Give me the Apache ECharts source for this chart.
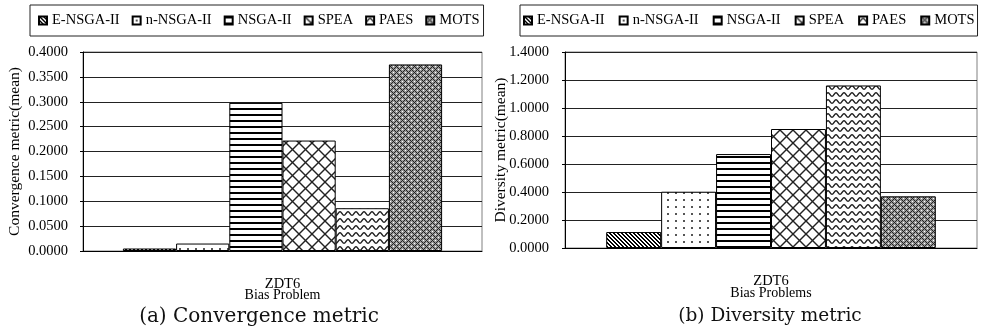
<!DOCTYPE html>
<html>
<head>
<meta charset="utf-8">
<script src="https://cdn.jsdelivr.net/npm/echarts@6/dist/echarts.min.js"></script>
<style>html,body{margin:0;padding:0;background:#fff}#c{width:981px;height:332px}</style>
</head>
<body>
<div id="c"></div>
<script>
// ---- data ----
const algorithms = ['E-NSGA-II', 'n-NSGA-II', 'NSGA-II', 'SPEA', 'PAES', 'MOTS'];
const categoriesA = ['ZDT6'];
const categoriesB = ['ZDT6'];
const convergence = [0.005, 0.015, 0.298, 0.222, 0.086, 0.375];
const diversity = [0.114, 0.402, 0.671, 0.850, 1.161, 0.369];
const xNameA = 'Bias Problem';
const xNameB = 'Bias Problems';
const yNameA = 'Convergence metric(mean)';
const yNameB = 'Diversity metric(mean)';
const captionA = '(a) Convergence metric';
const captionB = '(b) Diversity metric';

// ---- patterns ----
function pixelPattern(w, h, fn) {
  const c = document.createElement('canvas');
  c.width = w; c.height = h;
  const ctx = c.getContext('2d');
  for (let y = 0; y < h; y++) for (let x = 0; x < w; x++) {
    ctx.fillStyle = fn(x, y);
    ctx.fillRect(x, y, 1, 1);
  }
  return c;
}
function drawPattern(w, h, fn) {
  const c = document.createElement('canvas');
  c.width = w; c.height = h;
  const ctx = c.getContext('2d');
  ctx.fillStyle = '#fff';
  ctx.fillRect(0, 0, w, h);
  fn(ctx, w, h);
  return c;
}
const patterns = [
  pixelPattern(4, 4, (x, y) => (((x - y) % 4 + 4) % 4 < 2 ? '#000' : '#fff')),
  pixelPattern(8, 7, (x, y) => ((x === 3 || x === 4) && (y === 3 || y === 4) ? '#555' : '#fff')),
  pixelPattern(6, 6, (x, y) => (y < 2 ? '#000' : '#fff')),
  drawPattern(13, 13, (ctx, w, h) => {
    ctx.strokeStyle = '#222'; ctx.lineWidth = 1.4;
    for (let k = -1; k <= 1; k++) {
      ctx.beginPath(); ctx.moveTo(k * w, 0); ctx.lineTo(k * w + w, h); ctx.stroke();
      ctx.beginPath(); ctx.moveTo(k * w + w, 0); ctx.lineTo(k * w, h); ctx.stroke();
    }
  }),
  drawPattern(8, 7, (ctx, w, h) => {
    ctx.strokeStyle = '#222'; ctx.lineWidth = 1.4;
    for (let k = -1; k <= 1; k++) {
      ctx.beginPath();
      for (let x = 0; x <= w; x += 0.5) {
        const y = 3.5 + k * h + 1.8 * Math.cos(2 * Math.PI * x / w);
        if (x === 0) ctx.moveTo(x, y); else ctx.lineTo(x, y);
      }
      ctx.stroke();
    }
  }),
  pixelPattern(6, 6, (x, y) => {
    const d1 = (x + y) % 6, d2 = ((x - y) % 6 + 6) % 6;
    if (d1 === 0 || d2 === 0) return '#222';
    if (d1 === 3 && d2 === 3) return '#fff';
    return '#9a9a9a';
  })
];

const serif = "'Liberation Serif', 'Times New Roman', serif";
const txt = { fontFamily: serif, fontSize: 14.5, color: '#000' };

function yAxis(gridIndex, max, interval, name, gap, margin) {
  return {
    type: 'value', gridIndex, min: 0, max, interval,
    name, nameLocation: 'middle', nameGap: gap, nameMoveOverlap: false,
    nameTextStyle: Object.assign({}, txt, { fontSize: 15.5 }),
    axisLine: { show: true, lineStyle: { color: '#000', width: 1 } },
    axisTick: { show: true, length: 3, lineStyle: { color: '#000' } },
    axisLabel: Object.assign({}, txt, { margin, formatter: v => v.toFixed(4) }),
    splitLine: { show: true, lineStyle: { color: '#222', width: 1 } }
  };
}
function xAxis(gridIndex, data, name, margin, gap) {
  return {
    type: 'category', gridIndex, data,
    name, nameLocation: 'middle', nameGap: gap, nameMoveOverlap: false,
    nameTextStyle: Object.assign({}, txt, { fontSize: 14 }),
    axisLine: { show: true, lineStyle: { color: '#000', width: 1 } },
    axisTick: { show: false },
    axisLabel: Object.assign({}, txt, { fontSize: 14.5, margin }),
    splitLine: { show: false }
  };
}
function legend(left, pad, gap) {
  return {
    left, top: 5, orient: 'horizontal', width: 470,
    data: algorithms,
    itemWidth: 8, itemHeight: 8, itemGap: gap,
    padding: pad,
    borderColor: '#222', borderWidth: 1, backgroundColor: '#fff',
    textStyle: Object.assign({}, txt),
    icon: 'rect',
    selectedMode: false
  };
}
const series = [];
[convergence, diversity].forEach((vals, gi) => {
  algorithms.forEach((name, i) => {
    series.push({
      type: 'bar', name,
      xAxisIndex: gi, yAxisIndex: gi,
      data: [vals[i]],
      barGap: '0%', barCategoryGap: '20%',
      itemStyle: { color: { image: patterns[i], repeat: 'repeat' }, borderColor: '#000', borderWidth: 1 },
      emphasis: { disabled: true },
      animation: false
    });
  });
});

const capStyle = { fontFamily: "'DejaVu Serif', serif", fontWeight: 'normal', color: '#111' };
const chart = echarts.init(document.getElementById('c'), null, { renderer: 'canvas' });
chart.setOption({
  animation: false,
  backgroundColor: '#fff',
  title: [
    { text: captionA, left: 254, top: 302, textAlign: 'center', textStyle: Object.assign({ fontSize: 20 }, capStyle) },
    { text: captionB, left: 765, top: 302, textAlign: 'center', textStyle: Object.assign({ fontSize: 18.5 }, capStyle) }
  ],
  legend: [legend(30, [8, 4, 8, 8], 12), legend(520, [8, 3, 8, 3], 14)],
  grid: [
    { left: 83, width: 399, top: 52, bottom: 81, show: true, borderColor: '#808080', borderWidth: 1, containLabel: false },
    { left: 565, width: 412, top: 52, bottom: 84, show: true, borderColor: '#808080', borderWidth: 1, containLabel: false }
  ],
  xAxis: [xAxis(0, categoriesA, xNameA, 26, 37), xAxis(1, categoriesB, xNameB, 26, 38)],
  yAxis: [yAxis(0, 0.4, 0.05, yNameA, 60, 15), yAxis(1, 1.4, 0.2, yNameB, 56, 16)],
  tooltip: { show: false },
  series
});
</script>
</body>
</html>
